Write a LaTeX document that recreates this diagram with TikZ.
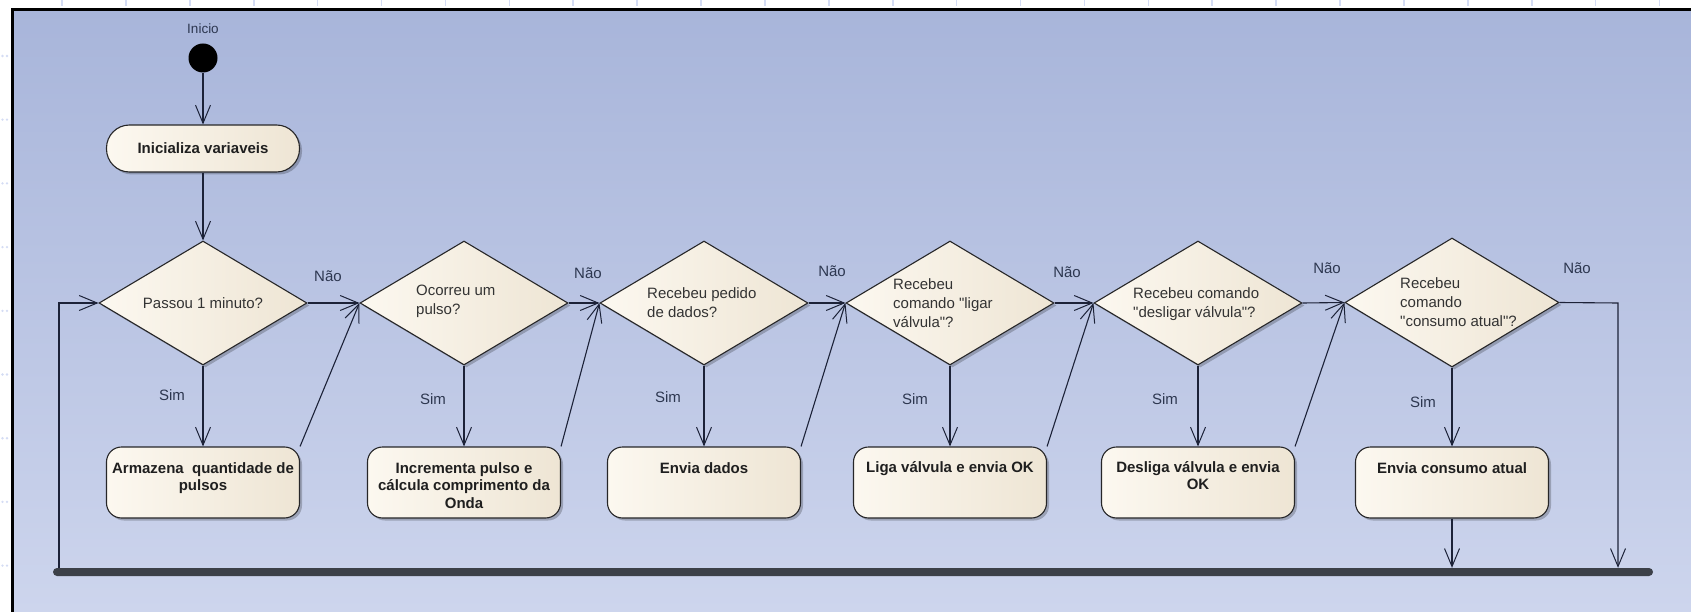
\documentclass[tikz,border=0pt]{standalone}
\usepackage{fontspec}
\setmainfont{Liberation Sans}
\newfontfamily\lsans{Liberation Sans}
\usetikzlibrary{shapes.geometric, arrows.meta, shadows, calc}

\definecolor{bgtop}{RGB}{168,181,218}
\definecolor{bgbot}{RGB}{205,213,237}
\definecolor{creamL}{RGB}{252,248,240}
\definecolor{creamR}{RGB}{238,229,212}
\definecolor{lineC}{RGB}{28,34,56}
\definecolor{edgeC}{RGB}{38,38,40}
\definecolor{lblC}{RGB}{45,55,80}
\definecolor{barC}{RGB}{60,64,72}
\definecolor{tickC}{RGB}{212,220,244}

\begin{document}
\begin{tikzpicture}[x=1pt,y=-1pt,
  flow/.style={draw=lineC, line width=1.1pt, -{Straight Barb[length=18pt,width=15pt,line width=1pt]}},
  shad/.style={drop shadow={shadow xshift=2.5pt, shadow yshift=-2.5pt, fill=black, opacity=0.22}},
  dec/.style={diamond, draw=edgeC, line width=1.1pt, left color=creamL, right color=creamR,
    minimum width=208pt, minimum height=124pt, inner sep=0pt, shad},
  act/.style={rectangle, rounded corners=15pt, draw=edgeC, line width=1.1pt, left color=creamL, right color=creamR,
    minimum width=193pt, minimum height=71pt, inner sep=0pt, shad},
  btext/.style={font=\lsans\bfseries\fontsize{15}{17.5}\selectfont, text=black!88, align=center, inner sep=0pt},
  dtext/.style={font=\lsans\fontsize{15}{19}\selectfont, text=black!80, align=left, inner sep=0pt},
  lbl/.style={font=\lsans\fontsize{15}{18}\selectfont, text=lblC, inner sep=0pt},
  barst/.style={rectangle, rounded corners=4pt, fill=barC, minimum width=1600pt, minimum height=8pt, inner sep=0pt}
]
\useasboundingbox (0,0) rectangle (1691,612);
% background and frame
\fill[white] (0,0) rectangle (1691,612);
\shade[top color=bgtop, bottom color=bgbot] (12,9) rectangle (1691,612);
\draw[black, line width=3pt] (12,612) -- (12,9.5) -- (1691,9.5);
\foreach \i in {0,...,25} \draw[tickC, line width=1.6pt] ({62+63.9*\i},0) -- ++(0,6);
\foreach \j in {0,...,8} {
  \fill[tickC] (2.5,{56+63.7*\j}) circle (1.3);
  \fill[tickC] (7,{56+63.7*\j}) circle (1.3);
}

% start
\node[lbl, font=\lsans\fontsize{13.5}{16}\selectfont] (inicio) at (203,29) {Inicio};
\node[circle, fill=black, minimum size=29pt, inner sep=0pt] (init) at (203,58) {};
\node[act, rounded corners=23pt, minimum height=47pt] (a0) at (203,148.5) {};
\node[btext] (a0t) at (203,148.5) {Inicializa variaveis};

% decisions
\node[dec] (d1) at (203,303) {};
\node[dec] (d2) at (464,303) {};
\node[dec] (d3) at (704,303) {};
\node[dec] (d4) at (950,303) {};
\node[dec] (d5) at (1198,303) {};
\node[dec, minimum width=214pt, minimum height=129pt] (d6) at (1452,302.5) {};

\node[dtext] (t1) at (203,303) {Passou 1 minuto?};
\node[dtext, anchor=west] (t2) at (416,301) {Ocorreu um\\pulso?};
\node[dtext, anchor=west] (t3) at (647,303) {Recebeu pedido\\de dados?};
\node[dtext, anchor=west] (t4) at (893,303) {Recebeu\\comando "ligar\\válvula"?};
\node[dtext, anchor=west] (t5) at (1133,304) {Recebeu comando\\"desligar válvula"?};
\node[dtext, anchor=west] (t6) at (1400,302) {Recebeu\\comando\\"consumo atual"?};

% actions
\node[act] (a1) at (203,482.5) {};
\node[act] (a2) at (464,482.5) {};
\node[act] (a3) at (704,482.5) {};
\node[act] (a4) at (950,482.5) {};
\node[act] (a5) at (1198,482.5) {};
\node[act] (a6) at (1452,482.5) {};

\node[btext, anchor=north] (a1t) at (203,462) {Armazena~~quantidade de\\pulsos};
\node[btext, anchor=north] (a2t) at (464,462) {Incrementa pulso e\\cálcula comprimento da\\Onda};
\node[btext, anchor=north] (a3t) at (704,462) {Envia dados};
\node[btext, anchor=north] (a4t) at (950,461) {Liga válvula e envia OK};
\node[btext, anchor=north] (a5t) at (1198,461) {Desliga válvula e envia\\OK};
\node[btext, anchor=north] (a6t) at (1452,462) {Envia consumo atual};

% join bar
\node[barst] (bar) at (853,572) {};

% connectors
\draw[flow] (init) -- (a0);
\draw[flow] (a0) -- (d1);
\draw[flow] (d1.east) -- (d2.west);
\draw[flow] (d2.east) -- (d3.west);
\draw[flow] (d3.east) -- (d4.west);
\draw[flow] (d4.east) -- (d5.west);
\draw[flow] (d5.east) -- (d6.west);
\draw[flow] (d1.south) -- (a1.north);
\draw[flow] (d2.south) -- (a2.north);
\draw[flow] (d3.south) -- (a3.north);
\draw[flow] (d4.south) -- (a4.north);
\draw[flow] (d5.south) -- (a5.north);
\draw[flow] (d6.south) -- (a6.north);
\draw[flow] (a1.north east) -- (d2.west);
\draw[flow] (a2.north east) -- (d3.west);
\draw[flow] (a3.north east) -- (d4.west);
\draw[flow] (a4.north east) -- (d5.west);
\draw[flow] (a5.north east) -- (d6.west);
\draw[flow] (a6.south) -- (a6.south |- bar.north);
\coordinate (nd6) at (1618,303);
\draw[flow] (d6.east) -- (nd6) -- (nd6 |- bar.north);
\coordinate (lp) at (59,303);
\draw[flow] (lp |- bar.north) -- (lp) -- (d1.west);

% guard labels
\node[lbl] (n1) at (328,276) {Não};
\node[lbl] (n2) at (588,273) {Não};
\node[lbl] (n3) at (832,271) {Não};
\node[lbl] (n4) at (1067,272) {Não};
\node[lbl] (n5) at (1327,268) {Não};
\node[lbl] (n6) at (1577,268) {Não};
\node[lbl] (s1) at (172,395) {Sim};
\node[lbl] (s2) at (433,399) {Sim};
\node[lbl] (s3) at (668,397) {Sim};
\node[lbl] (s4) at (915,399) {Sim};
\node[lbl] (s5) at (1165,399) {Sim};
\node[lbl] (s6) at (1423,402) {Sim};
\end{tikzpicture}
\end{document}
